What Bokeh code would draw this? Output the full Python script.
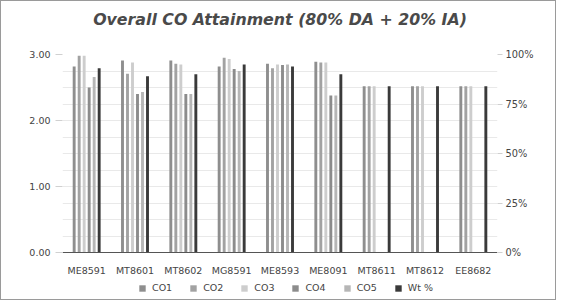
import numpy as np
from bokeh.plotting import figure
from bokeh.models import (ColumnDataSource, FactorRange, Range1d, LinearAxis, FixedTicker,
                          PrintfTickFormatter, Legend, LegendItem, Title)
from bokeh.transform import dodge
from bokeh.embed import file_html
from bokeh.resources import INLINE

courses = ["ME8591", "MT8601", "MT8602", "MG8591", "ME8593", "ME8091", "MT8611", "MT8612", "EE8682"]
co1 = [2.82, 2.91, 2.91, 2.82, 2.86, 2.89, 2.52, 2.52, 2.52]
co2 = [2.98, 2.71, 2.86, 2.95, 2.79, 2.88, 2.52, 2.52, 2.52]
co3 = [2.98, 2.88, 2.85, 2.93, 2.85, 2.88, 2.52, 2.52, 2.52]
co4 = [2.50, 2.40, 2.40, 2.78, 2.84, 2.38, None, None, None]
co5 = [2.66, 2.43, 2.40, 2.75, 2.85, 2.38, None, None, None]
wt_pct = [93, 89, 90, 95, 94, 90, 84, 84, 84]

series_names = ["CO1", "CO2", "CO3", "CO4", "CO5", "Wt %"]
colors = ["#8e8e8e", "#a2a2a2", "#cdcdcd", "#8c8c8c", "#b6b6b6", "#3a3a3a"]

def clean(v):
    return [np.nan if x is None else x for x in v]

src = ColumnDataSource(dict(cat=courses, co1=clean(co1), co2=clean(co2), co3=clean(co3),
                            co4=clean(co4), co5=clean(co5), wt=wt_pct))

# frame runs from y=3.0 (top) down past 0 so the legend fits inside the frame
y_low = -0.712
p = figure(width=556, height=300, x_range=FactorRange(*courses), y_range=Range1d(y_low, 3.0),
           output_backend="svg", toolbar_location=None,
           min_border_left=61, min_border_right=60, min_border_top=53, min_border_bottom=2)
p.extra_y_ranges = {"pct": Range1d(y_low / 3.0 * 100, 100)}
p.background_fill_color = "white"
p.border_fill_color = "white"
p.outline_line_color = None
p.styles = {"border": "1px solid #9a9a9a"}

p.add_layout(Title(text=" ", text_font_size="8px"), "above")
p.add_layout(Title(text="Overall CO Attainment (80% DA + 20% IA)", align="center", offset=14,
                   text_font="DejaVu Sans", text_font_style="bold italic",
                   text_font_size="15.8px", text_color="#4a4a4a"), "above")

pitch = 0.1035
w = 0.06
keys = ["co1", "co2", "co3", "co4", "co5"]
renderers = []
for i, k in enumerate(keys):
    r = p.vbar(x=dodge("cat", (i - 2.5) * pitch, range=p.x_range), top=k, bottom=0, width=w,
               source=src, fill_color=colors[i], line_color=None)
    renderers.append(r)
r = p.vbar(x=dodge("cat", 2.5 * pitch, range=p.x_range), top="wt", bottom=0, width=w, source=src,
           fill_color=colors[5], line_color=None, y_range_name="pct")
renderers.append(r)

# left axis
ya = p.yaxis[0]
ya.ticker = FixedTicker(ticks=[0, 1, 2, 3])
ya.formatter = PrintfTickFormatter(format="%.2f")
ya.axis_line_color = None
ya.major_tick_line_color = "#d0d0d0"
ya.major_tick_out = 7
ya.major_tick_in = 0
ya.minor_tick_line_color = None
ya.major_label_text_font = "DejaVu Sans"
ya.major_label_text_font_size = "9.5px"
ya.major_label_text_color = "#444444"
ya.major_label_standoff = 5

ra = LinearAxis(y_range_name="pct", ticker=FixedTicker(ticks=[0, 25, 50, 75, 100]),
                formatter=PrintfTickFormatter(format="%d%%"))
ra.axis_line_color = None
ra.major_tick_line_color = "#d0d0d0"
ra.major_tick_out = 5
ra.major_tick_in = 0
ra.minor_tick_line_color = None
ra.major_label_text_font = "DejaVu Sans"
ra.major_label_text_font_size = "9.8px"
ra.major_label_text_color = "#444444"
ra.major_label_standoff = 3
p.add_layout(ra, "right")

xa = p.xaxis[0]
xa.fixed_location = 0
xa.axis_line_color = "#555555"
xa.axis_line_width = 1
xa.major_tick_line_color = None
xa.minor_tick_line_color = None
xa.major_label_text_font = "DejaVu Sans"
xa.major_label_text_font_size = "9.5px"
xa.major_label_text_color = "#444444"
xa.major_label_standoff = 6

p.xgrid.grid_line_color = None
p.ygrid.ticker = FixedTicker(ticks=list(np.arange(0, 3.01, 0.25)))
p.ygrid.grid_line_color = "#e9e9e9"

legend = Legend(items=[LegendItem(label=n, renderers=[rr]) for n, rr in zip(series_names, renderers)],
                orientation="horizontal", location=(76, 6))
legend.glyph_width = 8
legend.glyph_height = 8
legend.label_standoff = 6
legend.spacing = 17
legend.padding = 2
legend.margin = 0
legend.border_line_color = None
legend.background_fill_alpha = 0
legend.label_text_font = "DejaVu Sans"
legend.label_text_font_size = "9.5px"
legend.label_text_color = "#444444"
p.add_layout(legend, "center")

open("out.html", "w").write(file_html(p, INLINE))
